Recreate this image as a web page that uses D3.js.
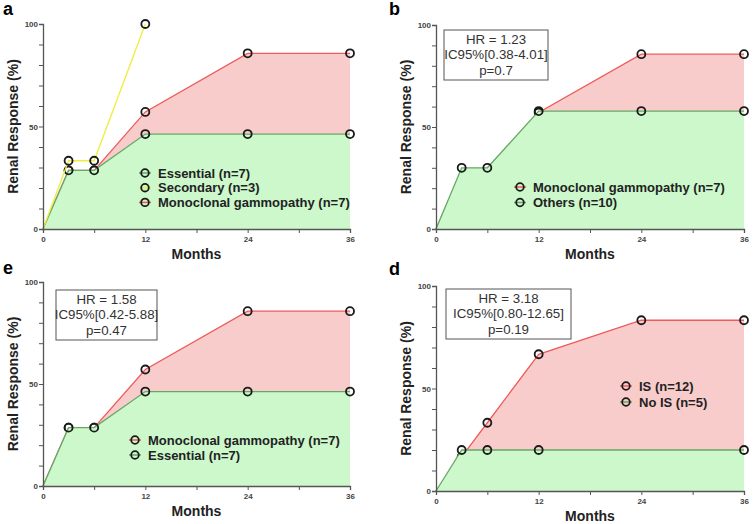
<!DOCTYPE html>
<html>
<head>
<meta charset="utf-8">
<script src="https://cdn.jsdelivr.net/npm/d3@7"></script>
<style>
  body { margin: 0; background: #fff; }
  svg { display: block; font-family: "Liberation Sans", Arial, sans-serif; }
</style>
</head>
<body>
<svg width="756" height="524"></svg>
<script>
// months at which the curves are read
const months = [0, 3, 6, 12, 24, 36];
const xTicks = [0, 12, 24, 36];
const xMinor = [6, 18, 30];
const yTicks = [0, 50, 100];

// panel a
const aEssential = [0, 28.6, 28.6, 46.3, 46.3, 46.3];
const aSecondary = [0, 33.3, 33.3, 100];
const aMonoclonal = [0, 28.6, 28.6, 57.1, 85.7, 85.7];
// panel b
const bMonoclonal = [0, 28.6, 28.6, 57.1, 85.7, 85.7];
const bMonoclonalMarked = [12, 24, 36];
const bOthers = [0, 30, 30, 57.8, 57.8, 57.8];
// panel e
const eMonoclonal = [0, 28.6, 28.6, 57.1, 85.7, 85.7];
const eEssential = [0, 28.6, 28.6, 46.3, 46.3, 46.3];
// panel d
const dIS = [0, 16.7, 33.3, 66.7, 83.3, 83.3];
const dNoIS = [0, 20, 20, 20, 20, 20];
const dNoISMarked = [3, 6, 12, 36];

const hrB = ["HR = 1.23", "IC95%[0.38-4.01]", "p=0.7"];
const hrE = ["HR = 1.58", "IC95%[0.42-5.88]", "p=0.47"];
const hrD = ["HR = 3.18", "IC95%[0.80-12.65]", "p=0.19"];

const RED = { line: "#ef5a5a", fill: "#f9cccc" };
const GREEN = { line: "#66a866", fill: "#ccf8cc" };
const YELLOW = { line: "#eeee3c", fill: null };

const svg = d3.select("svg");

function drawPanel(p) {
    const g = svg.append("g");
    const x = d3.scaleLinear().domain([0, 36]).range([p.x0, p.x1]);
    const y = d3.scaleLinear().domain([0, 100]).range([p.y0, p.y1]);

    // panel letter
    g.append("text")
        .attr("x", p.lx).attr("y", p.ly)
        .attr("font-size", 18).attr("font-weight", "bold")
        .text(p.letter);

    // series: fill, line, markers (in drawing order)
    p.series.forEach(s => {
        const pts = s.values.map((v, i) => [months[i], v]);
        if (s.color.fill) {
            g.append("path")
                .datum(pts)
                .attr("fill", s.color.fill)
                .attr("d", d3.area().x(d => x(d[0])).y0(y(0)).y1(d => y(d[1])));
        }
        g.append("path")
            .datum(pts)
            .attr("fill", "none")
            .attr("stroke", s.color.line)
            .attr("stroke-width", 1.3)
            .attr("d", d3.line().x(d => x(d[0])).y(d => y(d[1])));
        const marked = pts.filter(d => d[0] > 0 && (!s.marked || s.marked.includes(d[0])));
        g.selectAll(null)
            .data(marked)
            .enter()
            .append("circle")
            .attr("cx", d => x(d[0]))
            .attr("cy", d => y(d[1]))
            .attr("r", 4)
            .attr("fill", "none")
            .attr("stroke", "#1a1a1a")
            .attr("stroke-width", 1.8);
    });

    // axes
    const yAxis = d3.axisLeft(y)
        .tickValues(d3.range(0, 101, 10))
        .tickSize(4)
        .tickFormat(d => yTicks.includes(d) ? d : "");
    const xAxis = d3.axisBottom(x)
        .tickValues(xTicks.concat(xMinor))
        .tickSize(4)
        .tickFormat(d => xTicks.includes(d) ? d : "");

    const ya = g.append("g").attr("transform", `translate(${p.x0},0)`).call(yAxis);
    const xa = g.append("g").attr("transform", `translate(0,${p.y0})`).call(xAxis);
    [ya, xa].forEach(a => {
        a.select(".domain").attr("stroke", "#555").attr("stroke-width", 1.3);
        a.selectAll(".tick line").attr("stroke", "#555");
        a.selectAll(".tick text")
            .attr("fill", "#444")
            .attr("font-size", 8)
            .attr("font-weight", "bold")
            .attr("font-family", "\"Liberation Sans\", Arial, sans-serif");
    });
    ya.selectAll(".tick text").attr("x", -5);
    xa.selectAll(".tick text").attr("y", 7);

    // axis titles
    g.append("text")
        .attr("transform", `translate(${p.x0 - 30},${(p.y0 + p.y1) / 2}) rotate(-90)`)
        .attr("text-anchor", "middle")
        .attr("dy", "0.35em")
        .attr("font-size", 14).attr("font-weight", "bold")
        .attr("fill", "#222")
        .text("Renal Response (%)");
    g.append("text")
        .attr("x", (p.x0 + p.x1) / 2)
        .attr("y", p.y0 + 30)
        .attr("text-anchor", "middle")
        .attr("font-size", 14).attr("font-weight", "bold")
        .attr("fill", "#222")
        .text("Months");

    // legend
    p.legend.forEach((l, i) => {
        const ly = p.legY + i * p.legStep;
        g.append("line")
            .attr("x1", p.legX - 6).attr("x2", p.legX + 6)
            .attr("y1", ly).attr("y2", ly)
            .attr("stroke", l.color.line).attr("stroke-width", 1.5);
        g.append("circle")
            .attr("cx", p.legX).attr("cy", ly).attr("r", 3.8)
            .attr("fill", "none")
            .attr("stroke", "#1a1a1a").attr("stroke-width", 1.8);
        g.append("text")
            .attr("x", p.legX + 13).attr("y", ly + 4.5)
            .attr("font-size", 13).attr("font-weight", "bold")
            .attr("fill", "#222")
            .text(l.label);
    });

    // HR box
    if (p.hr) {
        g.append("rect")
            .attr("x", p.hrBox[0]).attr("y", p.hrBox[1])
            .attr("width", p.hrBox[2]).attr("height", p.hrBox[3])
            .attr("fill", "#fff")
            .attr("stroke", "#555").attr("stroke-width", 1);
        p.hr.forEach((t, i) => {
            g.append("text")
                .attr("x", p.hrBox[0] + p.hrBox[2] / 2)
                .attr("y", p.hrBox[1] + 14 + i * 15.3)
                .attr("text-anchor", "middle")
                .attr("font-size", 13.3)
                .attr("fill", "#333")
                .text(t);
        });
    }
}

drawPanel({
    letter: "a", lx: 3, ly: 15,
    x0: 43, x1: 350, y0: 229, y1: 24,
    series: [
        { values: aMonoclonal, color: RED },
        { values: aEssential, color: GREEN },
        { values: aSecondary, color: YELLOW }
    ],
    legX: 145, legY: 173, legStep: 14.7,
    legend: [
        { label: "Essential (n=7)", color: GREEN },
        { label: "Secondary (n=3)", color: YELLOW },
        { label: "Monoclonal gammopathy (n=7)", color: RED }
    ]
});

drawPanel({
    letter: "b", lx: 389, ly: 15,
    x0: 436, x1: 744, y0: 229, y1: 25,
    series: [
        { values: bMonoclonal, color: RED, marked: bMonoclonalMarked },
        { values: bOthers, color: GREEN }
    ],
    legX: 520, legY: 187, legStep: 15.5,
    legend: [
        { label: "Monoclonal gammopathy (n=7)", color: RED },
        { label: "Others (n=10)", color: GREEN }
    ],
    hr: hrB, hrBox: [444, 30, 104, 50]
});

drawPanel({
    letter: "e", lx: 3, ly: 274,
    x0: 43, x1: 350, y0: 486, y1: 282,
    series: [
        { values: eMonoclonal, color: RED },
        { values: eEssential, color: GREEN }
    ],
    legX: 135, legY: 440, legStep: 15,
    legend: [
        { label: "Monoclonal gammopathy (n=7)", color: RED },
        { label: "Essential (n=7)", color: GREEN }
    ],
    hr: hrE, hrBox: [56, 290, 101, 50]
});

drawPanel({
    letter: "d", lx: 389, ly: 275,
    x0: 436, x1: 744, y0: 491, y1: 286,
    series: [
        { values: dIS, color: RED },
        { values: dNoIS, color: GREEN, marked: dNoISMarked }
    ],
    legX: 626, legY: 386, legStep: 16,
    legend: [
        { label: "IS (n=12)", color: RED },
        { label: "No IS (n=5)", color: GREEN }
    ],
    hr: hrD, hrBox: [446, 289, 125, 50]
});
</script>
</body>
</html>
